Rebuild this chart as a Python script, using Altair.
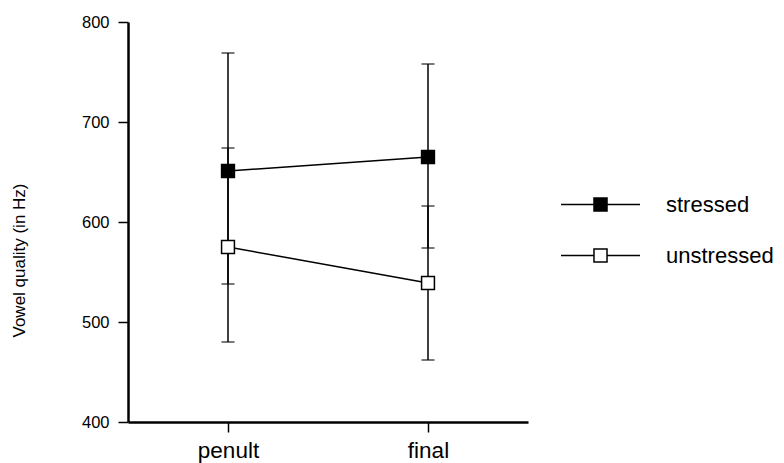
import altair as alt
import pandas as pd

positions = ["penult", "final"]
series = ["stressed", "unstressed"]
stressed_mean = [651, 665]
stressed_low = [538, 574]
stressed_high = [769, 758]
unstressed_mean = [575, 539]
unstressed_low = [480, 462]
unstressed_high = [674, 616]

rows = []
for i, p in enumerate(positions):
    rows.append({"position": p, "series": "stressed", "mean": stressed_mean[i],
                 "low": stressed_low[i], "high": stressed_high[i]})
    rows.append({"position": p, "series": "unstressed", "mean": unstressed_mean[i],
                 "low": unstressed_low[i], "high": unstressed_high[i]})
df = pd.DataFrame(rows)

FONT = "Liberation Sans"

x = alt.X("position:N", sort=positions, scale=alt.Scale(type="point", padding=0.5),
          axis=alt.Axis(title=None, labelAngle=0, labelFontSize=22.5, labelFont=FONT,
                        labelColor="black", labelPadding=7, tickSize=10, tickColor="black",
                        tickWidth=1.5, domainColor="black", domainWidth=2.5))
yscale = alt.Scale(domain=[400, 800], nice=False, zero=False)
yaxis = alt.Axis(title="Vowel quality (in Hz)", values=[400, 500, 600, 700, 800],
                 labelFontSize=16.5, labelFont=FONT, labelColor="black", labelPadding=9,
                 tickSize=10, tickColor="black", tickWidth=1.5, domainColor="black",
                 domainWidth=2.5, grid=False, titleFont=FONT, titleFontSize=17,
                 titleFontWeight="normal", titleColor="black", titleX=-109, titleY=238,
                 titleAngle=270, titleAlign="center", titleBaseline="middle")

base = alt.Chart(df)

err = base.mark_rule(color="black", strokeWidth=1.5).encode(
    x=x, y=alt.Y("low:Q", scale=yscale, axis=yaxis), y2="high:Q")
cap_lo = base.mark_tick(color="black", thickness=1.5, size=13, orient="horizontal").encode(
    x=x, y=alt.Y("low:Q", scale=yscale))
cap_hi = base.mark_tick(color="black", thickness=1.5, size=13, orient="horizontal").encode(
    x=x, y=alt.Y("high:Q", scale=yscale))

line = base.mark_line(color="black", strokeWidth=1.5).encode(
    x=x, y=alt.Y("mean:Q", scale=yscale), detail="series:N")

legend_path = "M-1,0H-0.165M0.165,0H1M-0.165,-0.165H0.165V0.165H-0.165Z"
pts = base.mark_point(shape="square", size=165, stroke="black", strokeWidth=1.5,
                      opacity=1, filled=False).encode(
    x=x, y=alt.Y("mean:Q", scale=yscale),
    fill=alt.Fill("series:N", scale=alt.Scale(domain=series, range=["black", "white"]),
                  legend=alt.Legend(title=None, orient="none", legendX=432, legendY=158,
                                    symbolType=legend_path, symbolSize=6241,
                                    symbolStrokeColor="black", symbolStrokeWidth=1.5,
                                    labelFont=FONT, labelFontSize=22, labelColor="black",
                                    labelOffset=25, clipHeight=49, rowPadding=2)))

chart = alt.layer(err, cap_lo, cap_hi, line, pts).properties(
    width=400, height=400,
    autosize=alt.AutoSizeParams(type="none"),
    padding={"left": 128, "top": 22, "right": 256, "bottom": 41},
).configure(background="white").configure_view(stroke="transparent", strokeWidth=0)

chart.save("out.html", embed_options={"renderer": "svg", "actions": False})
